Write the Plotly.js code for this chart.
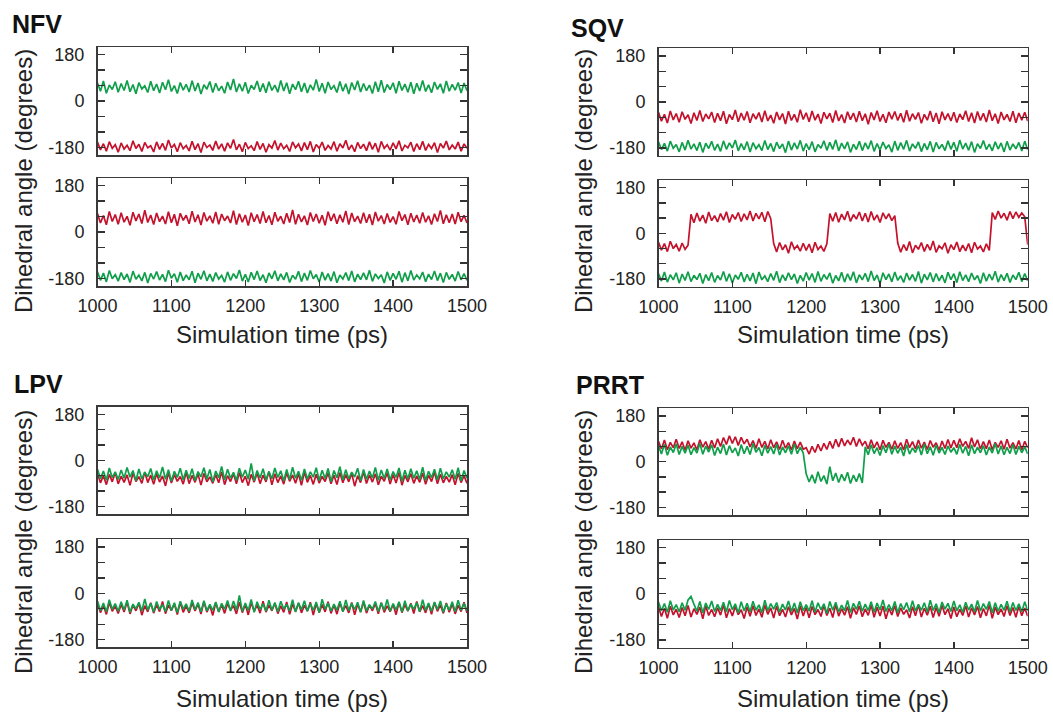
<!DOCTYPE html>
<html><head><meta charset="utf-8">
<script src="https://cdn.plot.ly/plotly-3.0.1.min.js"></script>
<style>html,body{margin:0;padding:0;background:#fff}#chart{width:1053px;height:713px}</style>
</head><body><div id="chart"></div>
<script>
// Simulation time (ps), sampled every 4 ps
const time = [
1000,1004,1008,1012,1016,1020,1024,1028,1032,1036,
1040,1044,1048,1052,1056,1060,1064,1068,1072,1076,
1080,1084,1088,1092,1096,1100,1104,1108,1112,1116,
1120,1124,1128,1132,1136,1140,1144,1148,1152,1156,
1160,1164,1168,1172,1176,1180,1184,1188,1192,1196,
1200,1204,1208,1212,1216,1220,1224,1228,1232,1236,
1240,1244,1248,1252,1256,1260,1264,1268,1272,1276,
1280,1284,1288,1292,1296,1300,1304,1308,1312,1316,
1320,1324,1328,1332,1336,1340,1344,1348,1352,1356,
1360,1364,1368,1372,1376,1380,1384,1388,1392,1396,
1400,1404,1408,1412,1416,1420,1424,1428,1432,1436,
1440,1444,1448,1452,1456,1460,1464,1468,1472,1476,
1480,1484,1488,1492,1496,1500];

const panelNames = ['NFV','SQV','LPV','PRRT'];
const xTickVals = [1000,1100,1200,1300,1400,1500];
const xTickText = ['1000','1100','1200','1300','1400','1500'];
const yTickVals = [-180,-120,-60,0,60,120,180];
const yTickText = ['-180','','','0','','','180'];
const xTitle = 'Simulation time (ps)';
const yTitle = 'Dihedral angle (degrees)';

// NFV
const nfvTopGreen = [
70,38,78,30,62,45,75,34,68,41,
80,36,64,28,71,47,59,33,77,40,
66,31,73,44,83,37,60,29,72,42,
65,35,79,39,70,27,63,46,76,33,
69,40,58,30,74,43,86,35,67,38,
73,29,61,45,78,36,68,32,75,41,
62,34,80,39,71,28,66,44,77,36,
70,31,63,42,84,37,69,30,74,45,
60,33,76,38,67,27,72,43,79,35,
68,40,62,29,75,36,81,33,64,44,
71,30,77,41,66,34,73,28,69,39,
80,37,63,32,74,45,67,30,78,38,
65,42,72,31,70,40];
const nfvTopRed = [
-160,-190,-166,-195,-158,-184,-170,-199,-163,-187,
-172,-193,-155,-185,-168,-196,-161,-182,-174,-198,
-159,-188,-165,-192,-152,-183,-169,-197,-162,-186,
-173,-194,-157,-189,-166,-200,-160,-181,-171,-192,
-156,-187,-167,-195,-163,-184,-150,-190,-168,-197,
-161,-185,-174,-193,-158,-188,-165,-199,-170,-183,
-154,-191,-164,-186,-172,-196,-159,-182,-167,-194,
-162,-189,-157,-198,-169,-184,-160,-192,-173,-187,
-158,-195,-166,-183,-153,-190,-171,-197,-161,-185,
-168,-193,-159,-188,-164,-199,-157,-184,-170,-191,
-163,-186,-155,-194,-172,-182,-160,-196,-166,-189,
-157,-192,-169,-185,-162,-200,-165,-183,-156,-190,
-171,-187,-160,-195,-167,-184];
const nfvBotRed = [
72,35,64,28,80,41,68,30,75,38,
61,26,77,43,70,33,85,37,66,29,
74,40,62,31,79,36,69,24,73,45,
65,32,81,39,67,27,76,42,63,34,
78,30,70,44,62,35,83,29,71,38,
66,25,75,40,68,33,80,36,64,28,
77,42,61,31,73,37,86,30,69,39,
63,27,76,41,70,34,65,26,79,43,
71,32,67,38,82,29,74,40,62,33,
75,36,69,27,78,42,64,31,72,37,
60,30,80,44,68,28,73,39,66,34,
76,38,63,29,71,41,84,32,67,36,
70,31,77,40,65,35];
const nfvBotGreen = [
-155,-188,-160,-194,-150,-182,-166,-191,-158,-185,
-163,-196,-152,-184,-168,-190,-157,-198,-161,-183,
-154,-187,-165,-193,-149,-180,-162,-195,-156,-189,
-167,-186,-153,-197,-160,-184,-151,-190,-164,-192,
-158,-183,-169,-195,-155,-188,-162,-181,-148,-191,
-165,-194,-157,-185,-152,-189,-166,-197,-159,-182,
-151,-190,-163,-186,-157,-196,-168,-184,-153,-193,
-160,-188,-150,-182,-165,-195,-156,-187,-162,-191,
-154,-197,-167,-183,-158,-189,-152,-194,-164,-185,
-159,-186,-149,-192,-163,-181,-166,-198,-155,-188,
-161,-184,-153,-195,-158,-190,-150,-187,-167,-182,
-156,-193,-164,-185,-152,-189,-160,-196,-157,-184,
-165,-191,-154,-186,-162,-188];

// SQV
const sqvTopRed = [
-40,-75,-48,-82,-35,-70,-45,-79,-38,-68,
-50,-84,-42,-72,-33,-76,-47,-66,-39,-80,
-44,-73,-36,-85,-49,-69,-31,-77,-43,-71,
-37,-81,-46,-67,-41,-78,-34,-74,-51,-83,
-39,-70,-45,-86,-36,-72,-48,-79,-30,-68,
-42,-77,-35,-71,-47,-84,-40,-66,-44,-80,
-33,-74,-49,-82,-38,-69,-43,-78,-36,-73,
-46,-87,-41,-70,-34,-76,-48,-81,-39,-67,
-37,-72,-44,-79,-32,-75,-46,-68,-41,-83,
-48,-71,-35,-77,-43,-85,-38,-70,-45,-74,
-40,-80,-47,-69,-34,-76,-42,-82,-37,-72,
-44,-78,-31,-73,-46,-84,-39,-70,-48,-76,
-36,-81,-43,-71,-40,-75];
const sqvTopGreen = [
-156,-186,-162,-192,-153,-181,-166,-195,-158,-188,
-150,-184,-164,-190,-157,-197,-161,-182,-154,-189,
-165,-193,-152,-185,-160,-180,-149,-191,-163,-187,
-155,-196,-159,-183,-167,-190,-151,-186,-162,-194,
-157,-182,-164,-198,-153,-188,-160,-184,-150,-192,
-163,-187,-155,-195,-166,-181,-152,-189,-158,-185,
-148,-191,-161,-183,-156,-197,-165,-186,-154,-190,
-160,-184,-151,-193,-163,-188,-157,-182,-167,-196,
-153,-189,-159,-185,-150,-192,-164,-181,-156,-194,
-162,-187,-154,-196,-158,-183,-166,-190,-152,-185,
-157,-193,-149,-184,-161,-189,-155,-197,-163,-182,
-151,-186,-165,-191,-156,-184,-160,-195,-154,-188,
-164,-183,-158,-192,-153,-187];
const sqvBotRed = [
-35,-66,-40,-72,-31,-60,-44,-70,-38,-63,
-47,75,42,80,48,72,40,84,50,70,
45,78,52,85,43,74,55,82,47,77,
53,88,49,79,57,83,46,86,58,-40,
-73,-36,-65,-45,-78,-33,-62,-48,-70,-39,
-67,-42,-76,-35,-64,-50,-71,-41,78,48,
82,44,76,53,87,47,74,56,84,49,
79,45,86,52,73,43,81,57,77,50,
70,-38,-74,-44,-68,-32,-77,-47,-63,-36,
-71,-43,-66,-30,-75,-49,-61,-37,-78,-45,
-64,-34,-72,-46,-69,-40,-76,-35,-62,-50,
-73,-41,-67,82,55,88,60,79,52,86,
58,84,63,80,65,-45];
const sqvBotGreen = [
-158,-188,-152,-192,-163,-183,-155,-196,-160,-185,
-151,-190,-165,-182,-157,-197,-162,-186,-154,-193,
-166,-184,-150,-189,-159,-195,-164,-181,-153,-191,
-161,-187,-156,-198,-152,-183,-167,-190,-158,-185,
-149,-194,-163,-186,-155,-182,-160,-197,-165,-188,
-154,-184,-158,-193,-150,-189,-162,-181,-156,-196,
-166,-187,-153,-192,-159,-185,-151,-195,-163,-183,
-157,-190,-148,-186,-164,-198,-155,-182,-160,-191,
-152,-185,-167,-193,-156,-184,-162,-189,-150,-196,
-161,-183,-154,-191,-158,-187,-165,-195,-153,-182,
-159,-194,-151,-186,-163,-190,-156,-183,-166,-197,
-155,-188,-160,-184,-149,-192,-162,-186,-157,-193,
-164,-182,-153,-190,-158,-187];

// LPV
const lpvTopRed = [
-52,-88,-60,-95,-55,-84,-48,-92,-62,-86,
-57,-98,-50,-83,-64,-90,-46,-87,-58,-94,
-53,-85,-61,-100,-49,-89,-56,-82,-63,-93,
-47,-91,-59,-86,-54,-97,-51,-84,-65,-90,
-56,-88,-45,-95,-60,-83,-52,-92,-48,-87,
-62,-99,-55,-85,-50,-91,-58,-84,-44,-96,
-53,-87,-61,-93,-49,-82,-57,-90,-52,-98,
-46,-86,-59,-94,-54,-89,-63,-83,-50,-92,
-58,-95,-48,-88,-56,-84,-51,-101,-60,-87,
-45,-91,-57,-85,-53,-96,-62,-82,-49,-93,
-55,-89,-47,-97,-59,-84,-52,-90,-61,-86,
-50,-94,-58,-83,-46,-92,-54,-88,-63,-85,
-56,-96,-51,-87,-60,-90];
const lpvTopGreen = [
-35,-72,-42,-78,-30,-68,-45,-75,-38,-70,
-28,-66,-40,-80,-34,-73,-46,-64,-32,-77,
-41,-69,-26,-74,-37,-82,-43,-67,-31,-76,
-39,-71,-33,-79,-44,-65,-29,-73,-36,-84,
-42,-68,-24,-76,-35,-70,-47,-78,-31,-66,
-38,-74,-12,-80,-40,-69,-33,-77,-44,-72,
-30,-67,-41,-81,-36,-75,-27,-70,-43,-78,
-34,-73,-45,-66,-29,-79,-39,-71,-32,-83,
-40,-68,-25,-76,-37,-72,-46,-65,-31,-80,
-36,-74,-42,-69,-28,-78,-38,-71,-34,-77,
-44,-67,-30,-82,-39,-73,-33,-70,-41,-75,
-27,-79,-43,-68,-35,-76,-31,-72,-45,-66,
-37,-74,-29,-80,-40,-70];
const lpvBotRed = [
-40,-75,-47,-82,-36,-70,-50,-78,-43,-73,
-34,-80,-45,-68,-39,-85,-48,-72,-37,-77,
-44,-71,-32,-79,-46,-67,-41,-83,-35,-74,
-49,-76,-38,-69,-42,-81,-33,-73,-47,-86,
-37,-72,-44,-78,-40,-66,-48,-80,-35,-75,
-43,-84,-36,-70,-45,-77,-31,-73,-46,-68,
-39,-79,-49,-74,-34,-82,-42,-71,-38,-76,
-47,-69,-35,-85,-41,-75,-44,-72,-33,-78,
-45,-81,-38,-70,-48,-76,-36,-84,-42,-73,
-34,-77,-46,-68,-40,-80,-37,-74,-49,-71,
-43,-83,-35,-75,-44,-69,-39,-79,-32,-72,
-48,-76,-41,-82,-36,-70,-45,-78,-38,-74,
-42,-80,-47,-71,-35,-77];
const lpvBotGreen = [
-30,-68,-38,-72,-25,-62,-40,-70,-33,-65,
-27,-74,-42,-60,-35,-69,-22,-66,-39,-73,
-32,-63,-44,-71,-28,-67,-37,-75,-31,-61,
-41,-70,-26,-64,-36,-72,-29,-68,-43,-66,
-34,-73,-39,-62,-28,-69,-30,-65,-8,-71,
-38,-67,-24,-74,-33,-63,-41,-70,-27,-66,
-36,-72,-31,-61,-43,-68,-25,-73,-37,-64,
-29,-70,-40,-66,-34,-75,-23,-62,-38,-69,
-42,-65,-31,-72,-26,-67,-39,-63,-35,-74,
-28,-68,-44,-61,-32,-71,-37,-66,-24,-70,
-40,-64,-33,-73,-29,-69,-42,-62,-36,-72,
-25,-67,-38,-70,-34,-63,-30,-74,-41,-65,
-33,-71,-27,-66,-39,-68];

// PRRT
const prrtTopRed = [
80,50,85,47,76,55,88,52,78,45,
82,53,74,46,86,57,79,49,84,54,
90,60,95,68,102,72,98,64,96,70,
88,58,83,52,90,56,80,50,86,55,
78,48,84,53,75,46,81,51,77,49,
55,30,60,36,68,42,72,48,80,52,
88,58,92,62,85,66,96,60,90,64,
80,50,86,54,78,47,84,56,76,49,
82,52,75,46,88,55,79,50,85,53,
77,48,83,57,74,45,81,52,87,54,
84,55,90,60,80,52,94,58,86,50,
79,51,85,47,76,56,82,49,88,53,
75,50,83,46,80,54];
const prrtTopGreen = [
62,30,68,25,58,36,70,28,60,33,
65,27,55,34,72,29,61,38,66,24,
57,32,69,26,63,35,54,22,67,31,
60,28,71,37,56,23,64,33,59,30,
68,26,58,35,62,29,70,31,57,34,
-48,-80,-52,-85,-40,-78,-55,-88,-20,-75,
-45,-82,-50,-76,-42,-86,-53,-79,-47,-84,
58,27,66,32,55,24,63,35,69,29,
61,33,57,22,67,30,54,36,64,26,
70,31,59,25,65,34,56,28,62,37,
55,29,68,33,60,23,66,31,57,35,
63,26,58,34,71,30,62,27,56,32,
67,28,60,35,58,30];
const prrtBotRed = [
-50,-88,-56,-95,-48,-82,-60,-92,-53,-85,
-45,-90,-58,-80,-52,-97,-47,-84,-61,-89,
-54,-83,-43,-93,-57,-86,-49,-81,-62,-96,
-51,-87,-46,-84,-59,-91,-44,-80,-55,-94,
-48,-85,-60,-90,-50,-82,-57,-98,-46,-86,
-53,-93,-49,-81,-61,-88,-45,-84,-56,-92,
-42,-87,-58,-83,-50,-95,-54,-80,-47,-89,
-59,-84,-44,-91,-52,-86,-48,-97,-57,-82,
-46,-88,-55,-80,-62,-94,-50,-85,-43,-90,
-56,-83,-48,-92,-53,-87,-45,-81,-58,-96,
-51,-89,-60,-84,-47,-90,-54,-82,-49,-93,
-57,-86,-44,-95,-52,-81,-59,-88,-46,-84,
-53,-91,-48,-85,-55,-87];
const prrtBotGreen = [
-32,-66,-38,-72,-27,-63,-42,-70,-35,-64,
-24,-10,-40,-68,-30,-74,-36,-61,-28,-69,
-41,-65,-33,-71,-26,-62,-39,-75,-31,-67,
-37,-70,-29,-64,-43,-73,-25,-66,-38,-60,
-34,-72,-40,-63,-28,-69,-36,-74,-31,-65,
-42,-67,-27,-71,-35,-62,-39,-76,-30,-64,
-33,-70,-44,-66,-26,-73,-37,-61,-29,-68,
-40,-65,-31,-72,-36,-63,-24,-69,-42,-66,
-30,-74,-38,-62,-34,-70,-27,-67,-41,-64,
-35,-71,-25,-65,-39,-73,-32,-60,-37,-69,
-28,-66,-43,-72,-33,-63,-40,-70,-26,-67,
-38,-61,-30,-74,-35,-68,-41,-64,-29,-71,
-34,-65,-39,-70,-31,-66];

const RED = '#c4122c';
const GREEN = '#0f9f4a';
const W = 1053, H = 713;

// subplot frames in pixels: [left, right], [top, bottom]
const LX = [97.5, 467], RX = [658.5, 1027.7];
const subplots = [
  {red: nfvTopRed,  green: nfvTopGreen,  xs: LX, ys: [47, 155],      labels: false},
  {red: nfvBotRed,  green: nfvBotGreen,  xs: LX, ys: [178, 286],     labels: true},
  {red: sqvTopRed,  green: sqvTopGreen,  xs: RX, ys: [48.3, 155.7],  labels: false},
  {red: sqvBotRed,  green: sqvBotGreen,  xs: RX, ys: [180, 286.7],   labels: true},
  {red: lpvTopRed,  green: lpvTopGreen,  xs: LX, ys: [406.7, 514],   labels: false},
  {red: lpvBotRed,  green: lpvBotGreen,  xs: LX, ys: [539.3, 647.3], labels: true},
  {red: prrtTopRed, green: prrtTopGreen, xs: RX, ys: [408.3, 515],   labels: false},
  {red: prrtBotRed, green: prrtBotGreen, xs: RX, ys: [540, 647.7],   labels: true}
];

const FONT = '"Liberation Sans", Arial, Helvetica, sans-serif';
const traces = [];
const layout = {
  width: W, height: H,
  margin: {l: 0, r: 0, t: 0, b: 0},
  paper_bgcolor: '#fff', plot_bgcolor: '#fff',
  showlegend: false,
  font: {family: FONT, color: '#222'},
  annotations: []
};

subplots.forEach((s, i) => {
  const k = i + 1;
  const sfx = k === 1 ? '' : String(k);
  traces.push({x: time, y: s.red, type: 'scatter', mode: 'lines',
    line: {color: RED, width: 1.7}, xaxis: 'x' + sfx, yaxis: 'y' + sfx, hoverinfo: 'skip'});
  traces.push({x: time, y: s.green, type: 'scatter', mode: 'lines',
    line: {color: GREEN, width: 1.7}, xaxis: 'x' + sfx, yaxis: 'y' + sfx, hoverinfo: 'skip'});
  layout['xaxis' + sfx] = {
    domain: [s.xs[0] / W, s.xs[1] / W], anchor: 'y' + sfx, range: [1000, 1500],
    tickmode: 'array', tickvals: xTickVals, ticktext: xTickText,
    showticklabels: s.labels, ticks: 'inside', ticklen: 6, tickwidth: 1.3, tickcolor: '#333',
    showline: true, linecolor: '#3a3a3a', linewidth: 1.5, mirror: 'ticks',
    showgrid: false, zeroline: false, ticklabelstandoff: 3,
    tickfont: {size: 18, color: '#222', family: FONT}
  };
  layout['yaxis' + sfx] = {
    domain: [1 - s.ys[1] / H, 1 - s.ys[0] / H], anchor: 'x' + sfx, range: [-210, 210],
    tickmode: 'array', tickvals: yTickVals, ticktext: yTickText,
    ticks: 'inside', ticklen: 7, tickwidth: 1.3, tickcolor: '#333',
    showline: true, linecolor: '#3a3a3a', linewidth: 1.5, mirror: 'ticks',
    showgrid: false, zeroline: false, ticklabelstandoff: 8,
    tickfont: {size: 18, color: '#222', family: FONT}
  };
});

// panel titles
const titlePos = [[10, 24], [569, 28], [12, 384], [574, 385]];
panelNames.forEach((n, i) => {
  layout.annotations.push({text: '<b>' + n + '</b>', xref: 'paper', yref: 'paper',
    x: titlePos[i][0] / W, y: 1 - titlePos[i][1] / H, xanchor: 'left', yanchor: 'middle',
    showarrow: false, font: {size: 25, color: '#111', family: FONT}});
});
// x-axis titles
[[282, 335], [843, 335], [282, 698], [843, 698]].forEach(p => {
  layout.annotations.push({text: xTitle, xref: 'paper', yref: 'paper',
    x: p[0] / W, y: 1 - p[1] / H, xanchor: 'center', yanchor: 'middle',
    showarrow: false, font: {size: 24, color: '#222', family: FONT}});
});
// y-axis titles
[[23, 181], [583, 181], [23, 542], [583, 542]].forEach(p => {
  layout.annotations.push({text: yTitle, xref: 'paper', yref: 'paper', textangle: -90,
    x: p[0] / W, y: 1 - p[1] / H, xanchor: 'center', yanchor: 'middle',
    showarrow: false, font: {size: 24, color: '#222', family: FONT}});
});

Plotly.newPlot('chart', traces, layout, {staticPlot: true, displayModeBar: false});
</script></body></html>
